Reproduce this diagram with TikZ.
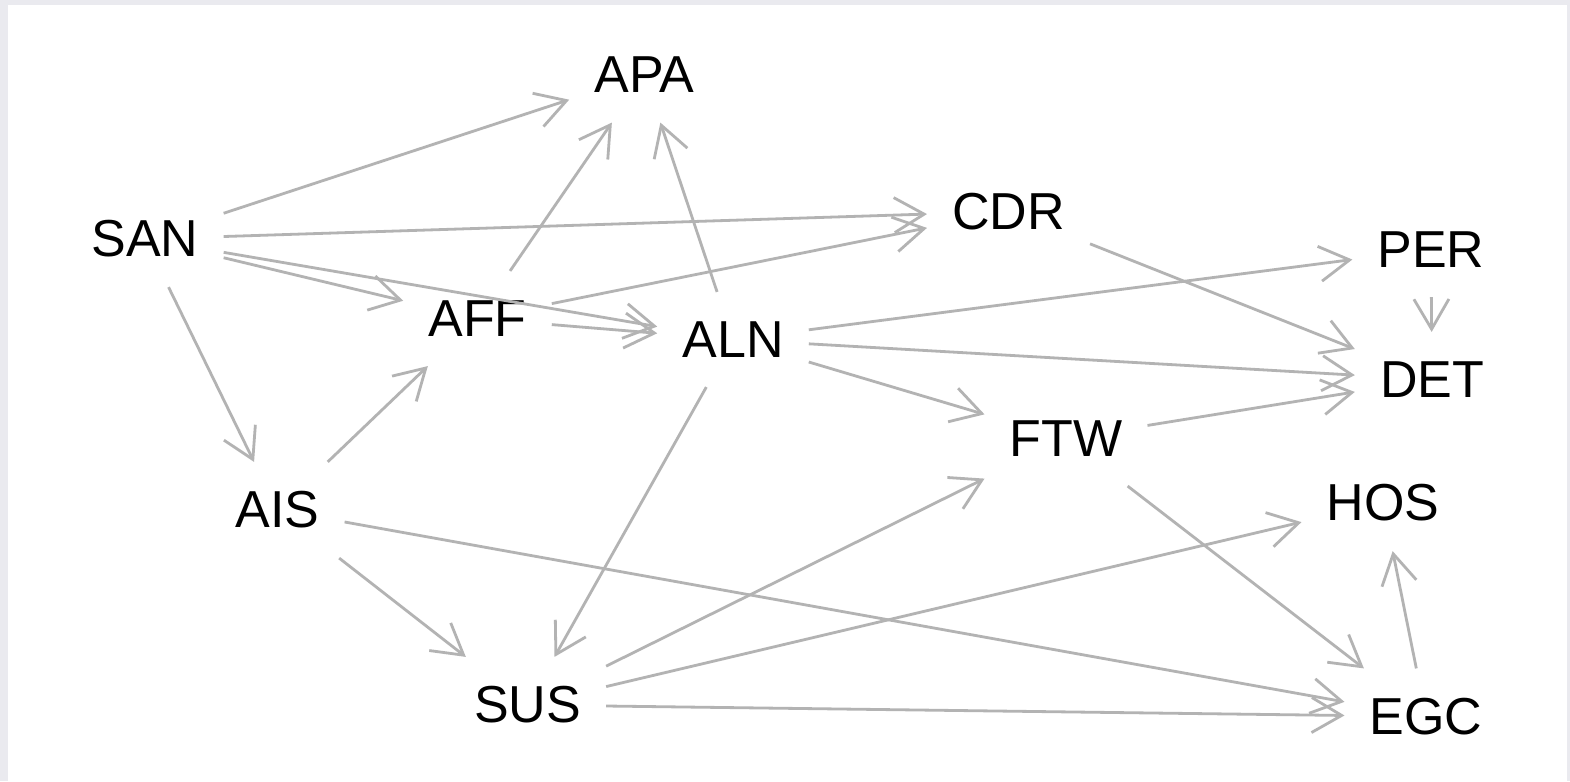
\documentclass[tikz,border=0pt]{standalone}
\usepackage{fontspec}
\setmainfont{Liberation Sans}
\usetikzlibrary{arrows.meta}
\definecolor{panelbg}{RGB}{234,234,239}
\definecolor{edgegray}{RGB}{179,179,179}
\tikzset{
  var/.style={rectangle, draw=none, inner xsep=25pt, inner ysep=29.5pt,
    font=\fontsize{52}{60}\selectfont, text=black},
  edge/.style={draw=edgegray, line width=2.8pt,
    -{Straight Barb[length=30pt, width=35pt]}}
}
\begin{document}
\begin{tikzpicture}[x=1pt, y=-1pt]
\useasboundingbox (0,0) rectangle (1570,781);
\fill[panelbg] (0,0) rectangle (1570,781);
\fill[white] (8,5) rectangle (1567,781);
\node[var] (APA) at (644.5,75) {APA};
\node[var] (SAN) at (145,239) {SAN};
\node[var] (CDR) at (1008.5,211.5) {CDR};
\node[var] (PER) at (1431,249.5) {PER};
\node[var] (AFF) at (477.5,318.5) {AFF};
\node[var] (ALN) at (733,339.5) {ALN};
\node[var] (DET) at (1432,379.5) {DET};
\node[var] (FTW) at (1066,438.5) {FTW};
\node[var] (AIS) at (277.5,510) {AIS};
\node[var] (HOS) at (1383,503) {HOS};
\node[var] (SUS) at (527.5,705) {SUS};
\node[var] (EGC) at (1426,716.5) {EGC};
\draw[edge] (SAN) -- (APA);
\draw[edge] (SAN) -- (CDR);
\draw[edge] (SAN) -- (AFF);
\draw[edge] (SAN) -- (ALN);
\draw[edge] (SAN) -- (AIS);
\draw[edge] (AFF) -- (APA);
\draw[edge] (AFF) -- (CDR);
\draw[edge] (AFF) -- (ALN);
\draw[edge] (ALN) -- (APA);
\draw[edge] (ALN) -- (PER);
\draw[edge] (ALN) -- (DET);
\draw[edge] (ALN) -- (FTW);
\draw[edge] (ALN) -- (SUS);
\draw[edge] (CDR) -- (DET);
\draw[edge] (PER) -- (DET);
\draw[edge] (FTW) -- (DET);
\draw[edge] (FTW) -- (EGC);
\draw[edge] (AIS) -- (AFF);
\draw[edge] (AIS) -- (SUS);
\draw[edge] (AIS) -- (EGC);
\draw[edge] (SUS) -- (FTW);
\draw[edge] (SUS) -- (HOS);
\draw[edge] (SUS) -- (EGC);
\draw[edge] (EGC) -- (HOS);
\end{tikzpicture}
\end{document}
